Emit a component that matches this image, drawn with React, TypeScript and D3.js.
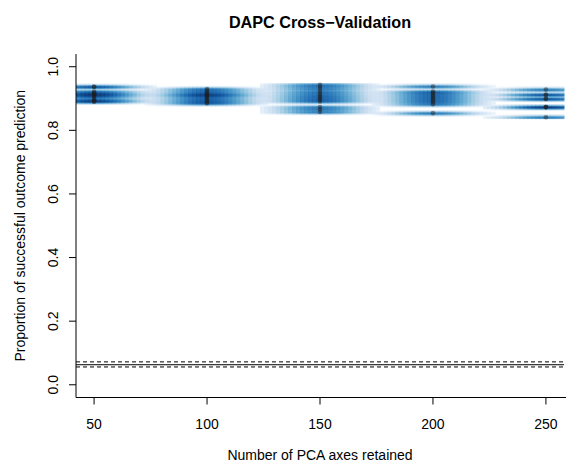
import React, { useMemo } from "react";
import * as d3 from "d3";

// ---- data ----
const nPcaLevels = [50, 100, 150, 200, 250];
const succ50 = [0.937, 0.937, 0.922, 0.918, 0.915, 0.912, 0.912, 0.908, 0.905, 0.898, 0.894, 0.891, 0.891];
const succ100 = [0.93, 0.925, 0.92, 0.916, 0.912, 0.912, 0.908, 0.905, 0.9, 0.896, 0.892, 0.888, 0.885];
const succ150 = [0.943, 0.937, 0.93, 0.922, 0.916, 0.91, 0.905, 0.9, 0.895, 0.891, 0.873, 0.866, 0.858];
const succ200 = [0.938, 0.922, 0.918, 0.913, 0.908, 0.903, 0.898, 0.893, 0.888, 0.882, 0.854];
const succ250 = [0.928, 0.912, 0.912, 0.899, 0.899, 0.873, 0.873, 0.873, 0.841];
const randomQuantiles = [0.056, 0.063, 0.072]; // 2.5%, 50%, 97.5%
const randomDash = ["4,3", null, "4,3"];
const xTicks = [50, 100, 150, 200, 250];
const yTicks = [0, 0.2, 0.4, 0.6, 0.8, 1.0];
const blues9 = ["#F7FBFF", "#DEEBF7", "#C6DBEF", "#9ECAE1", "#6BAED6", "#4292C6", "#2171B5", "#08519C", "#08306B"];

const W = 566, H = 462;
const FONT = "'Liberation Sans', Arial, Helvetica, sans-serif";

export default function App() {
  const x = d3.scaleLinear().domain([42, 258]).range([76, 564]);
  const y = d3.scaleLinear().domain([-0.04, 1.04]).range([397.5, 54]);

  const groups = [succ50, succ100, succ150, succ200, succ250];
  const pts = useMemo(() => {
    const out: { n: number; s: number }[] = [];
    groups.forEach((g, i) => g.forEach((s) => out.push({ n: nPcaLevels[i], s })));
    return out;
  }, []);

  const cells = useMemo(() => {
    const xs = pts.map((p) => p.n).sort(d3.ascending);
    const ys = pts.map((p) => p.s).sort(d3.ascending);
    let bwx = ((d3.quantile(xs, 0.95) as number) - (d3.quantile(xs, 0.05) as number)) / 25;
    let bwy = ((d3.quantile(ys, 0.95) as number) - (d3.quantile(ys, 0.05) as number)) / 25;
    if (bwx === 0) bwx = 1;
    if (bwy === 0) bwy = 1;
    const nb = 128;
    const x0 = d3.min(xs)! - 1.5 * bwx, x1 = d3.max(xs)! + 1.5 * bwx;
    const y0 = d3.min(ys)! - 1.5 * bwy, y1 = d3.max(ys)! + 1.5 * bwy;
    const dx = (x1 - x0) / (nb - 1), dy = (y1 - y0) / (nb - 1);
    const tau = 3.4;
    const grid: number[] = new Array(nb * nb).fill(0);
    for (let i = 0; i < nb; i++) {
      const gx = x0 + i * dx;
      for (let j = 0; j < nb; j++) {
        const gy = y0 + j * dy;
        let s = 0;
        for (const p of pts) {
          const ux = (gx - p.n) / bwx, uy = (gy - p.s) / bwy;
          if (Math.abs(ux) > tau || Math.abs(uy) > tau) continue;
          s += Math.exp(-0.5 * (ux * ux + uy * uy));
        }
        grid[i * nb + j] = Math.pow(s, 0.25);
      }
    }
    const zmax = d3.max(grid)!;
    const ramp = d3.piecewise(d3.interpolateRgb, ["#FFFFFF", ...blues9]);
    const cols = d3.range(256).map((k) => d3.color(ramp(k / 255))!.formatHex());
    const out: { x: number; y: number; w: number; h: number; c: string }[] = [];
    const xl = x.range()[0], xr = x.range()[1];
    for (let i = 0; i < nb; i++) {
      const gx = x0 + i * dx;
      let px0 = x(gx - dx / 2), px1 = x(gx + dx / 2);
      px0 = Math.max(px0, xl); px1 = Math.min(px1, xr);
      if (px1 <= px0) continue;
      for (let j = 0; j < nb; j++) {
        const z = grid[i * nb + j];
        let k = Math.floor((z / zmax) * 256);
        if (k > 255) k = 255;
        if (k <= 0) continue;
        const gy = y0 + j * dy;
        const py0 = y(gy + dy / 2), py1 = y(gy - dy / 2);
        out.push({ x: px0, y: py0, w: px1 - px0 + 0.3, h: py1 - py0 + 0.3, c: cols[k] });
      }
    }
    return out;
  }, [pts]);

  const xl = x.range()[0], xr = x.range()[1];
  const yb = y.range()[0], yt = y.range()[1];

  return (
    <svg width={W} height={H} style={{ display: "block", position: "absolute", left: 0, top: 0 }} fontFamily={FONT}>
      <rect x={0} y={0} width={W} height={H} fill="#fff" />
      <g>
        {cells.map((c, i) => (
          <rect key={i} x={c.x} y={c.y} width={c.w} height={c.h} fill={c.c} />
        ))}
      </g>
      <g>
        {pts.map((p, i) => (
          <circle key={i} cx={x(p.n)} cy={y(p.s)} r={2.3} fill="rgba(30,30,30,0.45)" />
        ))}
      </g>
      {randomQuantiles.map((q, i) => (
        <line key={i} x1={xl} x2={xr} y1={y(q)} y2={y(q)} stroke="#000" strokeWidth={1}
          strokeDasharray={randomDash[i] ?? undefined} />
      ))}
      {/* axes (L box) */}
      <line x1={xl} x2={xl} y1={yt} y2={yb} stroke="#000" strokeWidth={1} />
      <line x1={xl} x2={W} y1={yb} y2={yb} stroke="#000" strokeWidth={1} />
      {xTicks.map((t) => (
        <g key={t}>
          <line x1={x(t)} x2={x(t)} y1={yb} y2={yb + 7} stroke="#000" />
          <text x={x(t)} y={428.5} textAnchor="middle" fontSize={14}>{t}</text>
        </g>
      ))}
      {yTicks.map((t) => (
        <g key={t}>
          <line x1={xl - 7} x2={xl} y1={y(t)} y2={y(t)} stroke="#000" />
          <text transform={`translate(58,${y(t)}) rotate(-90)`} textAnchor="middle" fontSize={14}>{t.toFixed(1)}</text>
        </g>
      ))}
      <text x={(xl + 564) / 2} y={27.5} textAnchor="middle" fontSize={16.2} fontWeight="bold">DAPC Cross−Validation</text>
      <text x={(xl + 564) / 2} y={460} textAnchor="middle" fontSize={14}>Number of PCA axes retained</text>
      <text transform={`translate(24.5,${(yt + yb) / 2}) rotate(-90)`} textAnchor="middle" fontSize={14}>Proportion of successful outcome prediction</text>
    </svg>
  );
}
